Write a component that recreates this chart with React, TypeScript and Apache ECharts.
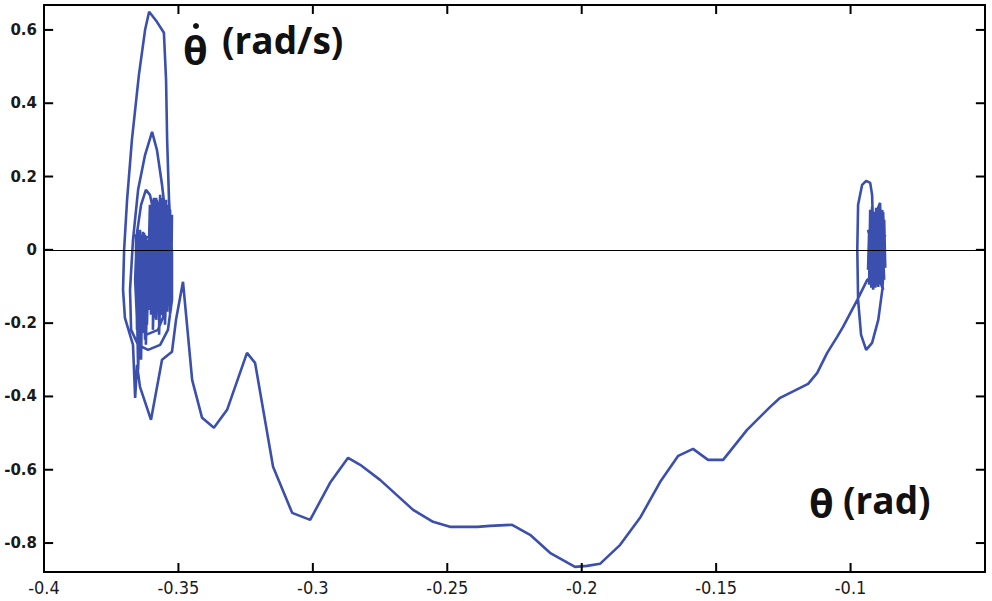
import React, { useEffect, useRef } from "react";
import * as echarts from "echarts";

// θ (rad) and θ̇ (rad/s) along the trajectory, split into stretches.
const thetaRightCore = [-0.0931, -0.0927, -0.0923, -0.092, -0.0916, -0.0912, -0.0908, -0.0905, -0.0901, -0.0897, -0.0894, -0.089, -0.0886, -0.0882, -0.0879, -0.0875, -0.0871, -0.0879, -0.089, -0.0901, -0.0912, -0.0923, -0.0935, -0.0931, -0.092, -0.0908, -0.0897, -0.0886, -0.0875];
const omegaRightCore = [-0.0955, 0.1091, -0.1037, 0.1173, -0.1091, 0.1037, -0.1037, 0.1146, -0.0982, 0.1091, -0.0928, 0.1228, -0.0819, 0.0955, -0.0682, 0.0819, -0.0491, 0.1037, -0.0873, 0.0982, -0.09, 0.0873, -0.0546, 0.0491, -0.0873, 0.0819, -0.101, 0.1037, -0.0819];

const thetaRight = [-0.0901, -0.0894, -0.0908, -0.0882, -0.0916, -0.0875, -0.0927, -0.0871, -0.0931, -0.0879, -0.0923, -0.089, -0.0912, -0.0871, -0.0935, -0.0886, -0.0905, -0.092, -0.0875, -0.0927, -0.0897, -0.0882, -0.0875, -0.0882, -0.0897, -0.092, -0.0942, -0.0961, -0.0972, -0.0975, -0.0972, -0.0957, -0.0942, -0.0927, -0.092, -0.0916, -0.0912, -0.092];
const omegaRight = [0.0136, 0.0955, -0.0819, 0.1091, -0.0955, 0.0819, -0.0682, 0.0409, 0, -0.1091, 0.0682, 0.1282, -0.0955, -0.0273, 0.0546, -0.0873, 0.1037, -0.0546, 0, 0.0273, -0.0682, 0.0682, -0.0273, -0.1091, -0.191, -0.2537, -0.2729, -0.2319, -0.1364, 0, 0.1228, 0.1774, 0.1883, 0.1828, 0.1501, 0.0546, -0.0273, -0.0737];

const thetaPath = [-0.0938, -0.0975, -0.1028, -0.105, -0.1087, -0.1124, -0.1158, -0.1262, -0.1299, -0.1385, -0.1474, -0.153, -0.1586, -0.1641, -0.1708, -0.1783, -0.1857, -0.1932, -0.198, -0.2025, -0.2118, -0.2192, -0.2259, -0.2341, -0.2389, -0.249, -0.2553, -0.2627, -0.275, -0.2824, -0.2869, -0.2936, -0.301, -0.3077, -0.3148, -0.3215, -0.3245, -0.3319, -0.3368, -0.3412, -0.3449, -0.3483];
const omegaPath = [-0.0819, -0.1364, -0.2101, -0.2374, -0.281, -0.3356, -0.3656, -0.4038, -0.4284, -0.4911, -0.573, -0.573, -0.543, -0.5621, -0.633, -0.7312, -0.8049, -0.8567, -0.8622, -0.8649, -0.8267, -0.7776, -0.7503, -0.7531, -0.7558, -0.7558, -0.7422, -0.7094, -0.6276, -0.5866, -0.5675, -0.6357, -0.7367, -0.7176, -0.5921, -0.3083, -0.281, -0.4366, -0.4857, -0.4584, -0.3547, -0.0873];

const thetaLeft = [-0.3509, -0.3524, -0.3561, -0.3602, -0.3643, -0.3654, -0.3661, -0.3669, -0.3699, -0.3706, -0.3702, -0.3691, -0.3673, -0.3647, -0.3624, -0.3609, -0.358, -0.3554, -0.3546, -0.3542, -0.3535, -0.3524, -0.3524, -0.3539, -0.3568, -0.3613, -0.365, -0.3676, -0.368, -0.3669, -0.365, -0.3624, -0.3598, -0.358, -0.3561, -0.3546, -0.3539, -0.3546, -0.3576, -0.3621, -0.3654, -0.3661, -0.3654, -0.3639, -0.3621, -0.3606, -0.3598, -0.3606, -0.3591, -0.3595, -0.358, -0.3583, -0.3568, -0.3572, -0.3557, -0.3561, -0.3546, -0.355, -0.3535, -0.3539, -0.3528, -0.3531, -0.3542, -0.3554, -0.3565, -0.3576, -0.3587, -0.3602, -0.3617, -0.3624, -0.3632, -0.3639, -0.3647, -0.3654, -0.3658, -0.365, -0.3635, -0.3643, -0.3624, -0.3621, -0.3613, -0.3598, -0.3583, -0.3568, -0.3554, -0.3539, -0.3546, -0.3561, -0.3576, -0.3591, -0.3576];
const omegaLeft = [-0.191, -0.2783, -0.3001, -0.4638, -0.3738, -0.3138, -0.4038, -0.2592, -0.1855, -0.1091, 0, 0.1364, 0.3001, 0.4775, 0.6003, 0.6494, 0.6221, 0.5921, 0.4638, 0.3001, 0.1364, -0.0082, -0.1364, -0.2183, -0.2592, -0.2729, -0.2592, -0.2183, -0.1091, 0.0273, 0.1637, 0.2592, 0.322, 0.2729, 0.1774, 0.0819, -0.0546, -0.1637, -0.2183, -0.2319, -0.191, -0.0819, 0.0464, 0.1228, 0.1637, 0.1501, 0.1228, -0.1637, 0.1419, -0.2183, 0.1364, -0.191, 0.1501, -0.2319, 0.1364, -0.1774, 0.1228, -0.2046, 0.1091, -0.1501, 0.0955, -0.1774, 0.1091, -0.1364, 0.1228, -0.1637, 0.1364, -0.1091, 0.0273, -0.2456, 0.0491, -0.3001, 0.0409, -0.2183, 0.0136, -0.3274, 0.0273, -0.191, 0.0409, -0.2592, 0.0273, -0.1364, 0.0955, -0.1364, 0.0955, -0.1091, 0.0546, -0.1091, 0.0409, -0.0819, 0.0273];

const thetaLeftCore = [-0.3658, -0.3654, -0.365, -0.3647, -0.3643, -0.3639, -0.3635, -0.3632, -0.3628, -0.3624, -0.3621, -0.3617, -0.3606, -0.3602, -0.3598, -0.3595, -0.3591, -0.3587, -0.3583, -0.358, -0.3576, -0.3572, -0.3568, -0.3565, -0.3561, -0.3557, -0.3554, -0.355, -0.3546, -0.3542, -0.3539, -0.3535, -0.3531, -0.3528, -0.3524, -0.3528, -0.3535, -0.3546, -0.3557, -0.3568, -0.358, -0.3591, -0.3602, -0.3609];
const omegaLeftCore = [0.0409, -0.2046, 0.0491, -0.2319, 0.0546, -0.191, 0.0382, -0.2183, 0.0464, -0.1855, 0.0327, -0.2046, 0.1228, -0.1774, 0.1364, -0.1501, 0.1282, -0.1855, 0.1419, -0.1637, 0.131, -0.1965, 0.1364, -0.1583, 0.1419, -0.1855, 0.1282, -0.1501, 0.1364, -0.1692, 0.1228, -0.1364, 0.1091, -0.1637, 0.0955, 0.0546, -0.1228, 0.0955, -0.1364, 0.1037, -0.131, 0.0955, -0.1091, 0];

const xTicks = [-0.4, -0.35, -0.3, -0.25, -0.2, -0.15, -0.1];
const yTicks = [-0.8, -0.6, -0.4, -0.2, 0, 0.2, 0.4, 0.6];

const X_MIN = -0.4;
const X_MAX = -0.05;
const Y_MIN = -0.879;
const Y_MAX = 0.668;

function pairs(xs: number[], ys: number[]) {
  return xs.map((x, i) => [x, ys[i]]);
}

const fmt = (v: number) => String(Number(v.toFixed(2)));

// tick lengths in data units (about 9 px each way)
const TICK_DX = 0.0034;
const TICK_DY = 0.0245;

function tickLine(a: number[], b: number[]) {
  return {
    type: "line",
    data: [a, b],
    showSymbol: false,
    symbol: "none",
    silent: true,
    clip: false,
    lineStyle: { color: "#000", width: 2 },
    z: 10,
  };
}

export default function App() {
  const ref = useRef<HTMLDivElement>(null);
  useEffect(() => {
    document.body.style.margin = "0";
    if (!ref.current) return;
    const chart = echarts.init(ref.current, undefined, { renderer: "svg" });
    const data = [
      ...pairs(thetaRightCore, omegaRightCore),
      ...pairs(thetaRight, omegaRight),
      ...pairs(thetaPath, omegaPath),
      ...pairs(thetaLeft, omegaLeft),
      ...pairs(thetaLeftCore, omegaLeftCore),
    ];
    const ticks: any[] = [];
    xTicks.forEach((x) => {
      ticks.push(tickLine([x, Y_MIN], [x, Y_MIN + TICK_DY]));
      ticks.push(tickLine([x, Y_MAX], [x, Y_MAX - TICK_DY]));
    });
    yTicks.forEach((y) => {
      ticks.push(tickLine([X_MIN, y], [X_MIN + TICK_DX, y]));
      ticks.push(tickLine([X_MAX, y], [X_MAX - TICK_DX, y]));
    });
    const axisLine = { show: true, onZero: false, lineStyle: { color: "#000", width: 2 } };
    chart.setOption({
      animation: false,
      backgroundColor: "#fff",
      grid: { left: 44, right: 7, top: 5, bottom: 29, containLabel: false },
      xAxis: [
        {
          type: "value",
          min: X_MIN,
          max: X_MAX,
          position: "bottom",
          axisLine,
          splitLine: { show: false },
          axisTick: { show: false },
          axisLabel: {
            customValues: xTicks,
            formatter: fmt,
            color: "#1a1a1a",
            fontFamily: "DejaVu Sans Condensed, DejaVu Sans",
            fontSize: 18,
            margin: 6,
          },
        },
        {
          type: "value",
          min: X_MIN,
          max: X_MAX,
          position: "top",
          axisLine,
          splitLine: { show: false },
          axisTick: { show: false },
          axisLabel: { show: false },
        },
      ],
      yAxis: [
        {
          type: "value",
          min: Y_MIN,
          max: Y_MAX,
          position: "left",
          axisLine,
          splitLine: { show: false },
          axisTick: { show: false },
          axisLabel: {
            customValues: yTicks,
            formatter: fmt,
            color: "#1a1a1a",
            fontFamily: "DejaVu Sans",
            fontWeight: "bold",
            fontSize: 15,
            margin: 7,
          },
        },
        {
          type: "value",
          min: Y_MIN,
          max: Y_MAX,
          position: "right",
          axisLine,
          splitLine: { show: false },
          axisTick: { show: false },
          axisLabel: { show: false },
        },
      ],
      series: [
        {
          type: "line",
          data,
          showSymbol: false,
          symbol: "none",
          clip: true,
          lineStyle: { color: "#3a4fae", width: 2.6 },
          markLine: {
            silent: true,
            symbol: "none",
            label: { show: false },
            lineStyle: { color: "#000", width: 1, type: "solid" },
            data: [{ yAxis: 0 }],
          },
          z: 3,
        },
        ...ticks,
      ],
      graphic: [
        {
          type: "text",
          left: 183,
          top: 29,
          style: { text: "θ", font: "bold 40px 'Open Sans'", fill: "#111" },
        },
        {
          type: "circle",
          shape: { cx: 196, cy: 26, r: 3 },
          style: { fill: "#111" },
        },
        {
          type: "text",
          left: 222,
          top: 21,
          style: { text: "(rad/s)", font: "bold 37px 'Open Sans'", fill: "#111" },
        },
        {
          type: "text",
          left: 809,
          top: 482,
          style: { text: "θ", font: "bold 40px 'Open Sans'", fill: "#111" },
        },
        {
          type: "text",
          left: 843,
          top: 481,
          style: { text: "(rad)", font: "bold 37px 'Open Sans'", fill: "#111" },
        },
      ],
    });
    return () => chart.dispose();
  }, []);
  return <div ref={ref} style={{ width: 992, height: 601 }} />;
}
